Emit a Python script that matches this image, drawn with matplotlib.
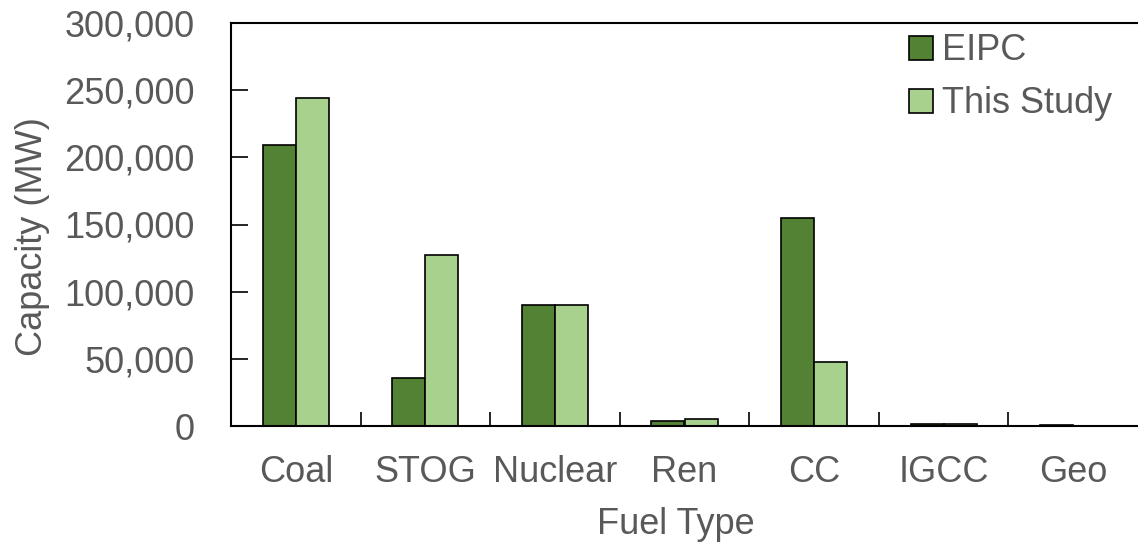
import numpy as np
import matplotlib
matplotlib.use("Agg")
import matplotlib.pyplot as plt
from matplotlib.ticker import FuncFormatter

#Data
fuels = ["Coal", "STOG", "Nuclear", "Ren", "CC", "IGCC", "Geo"]
eipc = [209000, 36000, 90000, 3700, 155000, 1200, 600]
study = [244000, 127000, 90000, 5000, 48000, 1800, 0]

dark = "#548235"
light = "#a9d18e"
grey = "#595959"

plt.rcParams['font.family'] = ['Liberation Sans', 'DejaVu Sans']

fig = plt.figure(figsize=(11.38, 5.42), dpi=100)
ax = fig.add_axes([231/1138, 116/542, 907/1138, 403/542])

x = np.arange(len(fuels))
w = 0.255
ax.bar(x - w/2, eipc, w, color=dark, edgecolor="black", linewidth=1.2, label="EIPC")
ax.bar(x + w/2, study, w, color=light, edgecolor="black", linewidth=1.2, label="This Study")

ax.set_xlim(-0.5, len(fuels) - 0.5)
ax.set_ylim(0, 300000)
ax.set_yticks(np.arange(0, 300001, 50000))
ax.yaxis.set_major_formatter(FuncFormatter(lambda v, p: f"{int(v):,}"))

#Category labels at centres, ticks at boundaries
ax.set_xticks(x)
ax.set_xticklabels(fuels)
ax.set_xticks(np.arange(0.5, len(fuels) - 0.5, 1), minor=True)
ax.tick_params(axis="x", which="major", length=0, pad=21, labelsize=26, labelcolor=grey)
ax.tick_params(axis="x", which="minor", direction="in", length=10, width=1.2)
ax.tick_params(axis="y", direction="in", length=12, width=1.2, pad=26, labelsize=26, labelcolor=grey)

for s in ["left", "bottom", "top"]:
	ax.spines[s].set_linewidth(1.5)
ax.spines["right"].set_visible(False)

ax.set_ylabel("Capacity (MW)", fontsize=26, color=grey)
ax.yaxis.set_label_coords(-0.2, 0.47)
ax.set_xlabel("Fuel Type", fontsize=26, color=grey, labelpad=8)
ax.xaxis.set_label_coords(0.49, -0.2)

leg = ax.legend(loc="upper left", bbox_to_anchor=(0.712, 1.055), frameon=False,
	fontsize=26, labelcolor=grey, handlelength=0.65, handleheight=0.65,
	handletextpad=0.25, labelspacing=0.5)

fig.savefig("out.png", dpi=100)
